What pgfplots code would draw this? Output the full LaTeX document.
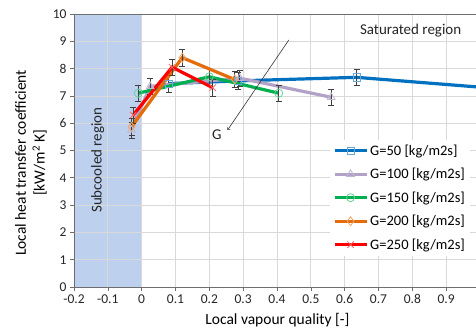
\documentclass[border=0pt]{standalone}
\usepackage{fontspec}
\setmainfont{Carlito}
\usepackage{pgfplots}
\pgfplotsset{compat=1.18}
\definecolor{c50}{RGB}{0,112,192}
\definecolor{c100}{RGB}{179,162,199}
\definecolor{c150}{RGB}{0,176,80}
\definecolor{c200}{RGB}{228,108,10}
\definecolor{c250}{RGB}{255,0,0}
\definecolor{shade}{RGB}{189,209,238}
\definecolor{gridc}{RGB}{217,217,217}
\definecolor{axc}{RGB}{110,110,110}
\definecolor{errc}{RGB}{64,64,64}
\newcommand{\fs}[1]{\fontsize{#1}{#1}\selectfont}
\begin{document}
\begin{tikzpicture}
\begin{axis}[
  at={(0,0)}, anchor=south west,
  scale only axis, width=406pt, height=273pt,
  xmin=-0.2, xmax=1.0, ymin=0, ymax=10,
  set layers,
  xtick={-0.2,-0.1,0,0.1,0.2,0.3,0.4,0.5,0.6,0.7,0.8,0.9,1.0},
  xticklabels={-0.2,-0.1,0,0.1,0.2,0.3,0.4,0.5,0.6,0.7,0.8,0.9,{}},
  ytick={0,1,2,3,4,5,6,7,8,9,10},
  /pgf/number format/assume math mode=true,
  tick label style={font=\fs{13.5}, text=black!85},
  xtick pos=bottom, ytick pos=left,
  tick align=outside, major tick length=4pt,
  tick style={axc, line width=0.6pt},
  grid=major, grid style={gridc, line width=0.7pt},
  axis line style={axc, line width=0.9pt},
  xlabel={Local vapour quality [-]},
  xlabel style={font=\fs{15.5}, at={(axis description cs:0.501,-0.12)}, anchor=center},
  ylabel={\begin{tabular}{c}Local heat transfer coefficient\\[2pt] [kW/m\textsuperscript{2} K]\end{tabular}},
  ylabel style={font=\fs{15.5}, at={(axis description cs:-0.103,0.455)}, anchor=center},
  legend style={at={(axis description cs:0.63,0.54)}, anchor=north west, draw=none, fill=white,
    font=\fs{14.5}, row sep=7.5pt, inner sep=3pt},
  legend cell align=left,
  legend image code/.code={\draw[#1, mark repeat=2, mark phase=2] plot coordinates {(0pt,0pt) (16pt,0pt) (32pt,0pt)};},
  every axis plot/.append style={line width=3.2pt},
  error bars/y dir=both, error bars/y fixed=0.3,
  error bars/error bar style={errc, line width=0.6pt},
  error bars/error mark options={rotate=90, errc, mark size=3pt, line width=0.6pt},
]
\addplot[on layer=axis background, fill=shade, draw=none, line width=0pt, forget plot,
  error bars/y dir=none] coordinates {(-0.2,0) (0,0) (0,10) (-0.2,10)} -- cycle;

\addplot[c50, mark=square, mark size=3.6pt, mark options={solid, draw=c50!60, fill=none, line width=0.8pt}]
  coordinates {(0.08,7.45) (0.285,7.55) (0.635,7.68) (1.02,7.3)};
\addlegendentry{G=50 [kg/m2s]}
\addplot[c100, mark=triangle, mark size=4.5pt, mark options={solid, draw=c100!80!white, fill=none, line width=0.8pt}]
  coordinates {(-0.03,5.75) (0.025,7.35) (0.29,7.65) (0.56,6.95)};
\addlegendentry{G=100 [kg/m2s]}
\addplot[c150, mark=o, mark size=4pt, mark options={solid, draw=c150!60, fill=none, line width=0.8pt}]
  coordinates {(-0.01,7.1) (0.2,7.7) (0.405,7.1)};
\addlegendentry{G=150 [kg/m2s]}
\addplot[c200, mark=diamond, mark size=4.5pt, mark options={solid, draw=c200!60, fill=none, line width=0.8pt}]
  coordinates {(-0.03,5.87) (0.12,8.4) (0.275,7.6)};
\addlegendentry{G=200 [kg/m2s]}
\addplot[c250, mark=x, mark size=4.5pt, mark options={solid, draw=c250!60, fill=none, line width=0.8pt}]
  coordinates {(-0.025,6.3) (0.09,8.05) (0.21,7.3)};
\addlegendentry{G=250 [kg/m2s]}

\node[font=\fs{15}, text=black!85] at (axis cs:0.795,9.41) {Saturated region};
\node[font=\fs{15}, text=black!85, rotate=90] at (axis cs:-0.13,4.65) {Subcooled region};
\draw[->, black!80, line width=0.6pt] (axis cs:0.435,9.05) -- (axis cs:0.254,5.75);
\node[font=\fs{15}, text=black!85] at (axis cs:0.222,5.57) {G};
\end{axis}
\pgfresetboundingbox
\useasboundingbox (-74pt,-42pt) rectangle (402pt,287pt);
\end{tikzpicture}
\end{document}
